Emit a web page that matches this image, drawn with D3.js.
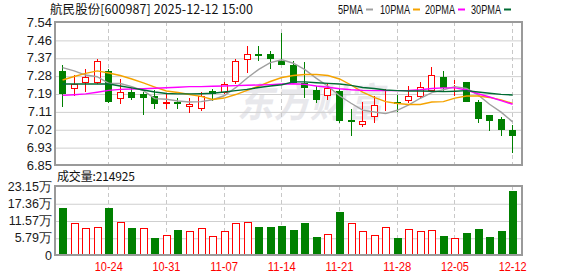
<!DOCTYPE html>
<html><head><meta charset="utf-8">
<script src="https://cdn.jsdelivr.net/npm/d3@7"></script>
<style>body{margin:0;background:#fff}svg{display:block}</style>
</head><body><svg id="c" width="578" height="276"></svg>
<script>
const dates=["10-20","10-21","10-22","10-23","10-24","10-27","10-28","10-29","10-30","10-31",
"11-03","11-04","11-05","11-06","11-07","11-10","11-11","11-12","11-13","11-14",
"11-17","11-18","11-19","11-20","11-21","11-24","11-25","11-26","11-27","11-28",
"12-01","12-02","12-03","12-04","12-05","12-08","12-09","12-10","12-11","12-12"];
const openP=[7.304,7.215,7.244,7.244,7.304,7.167,7.202,7.193,7.183,7.145,
7.154,7.131,7.122,7.206,7.196,7.250,7.357,7.386,7.386,7.350,
7.333,7.246,7.212,7.185,7.207,7.066,7.045,7.083,7.152,7.154,
7.157,7.177,7.209,7.275,7.238,7.250,7.154,7.090,7.072,7.019];
const highP=[7.332,7.284,7.312,7.360,7.313,7.263,7.222,7.204,7.210,7.193,
7.173,7.171,7.202,7.218,7.250,7.360,7.424,7.424,7.399,7.488,
7.353,7.345,7.231,7.241,7.217,7.120,7.156,7.181,7.219,7.188,
7.233,7.250,7.323,7.304,7.258,7.250,7.166,7.090,7.082,7.041];
const lowP=[7.131,7.184,7.204,7.242,7.148,7.146,7.164,7.093,7.122,7.120,
7.120,7.102,7.112,7.157,7.194,7.241,7.295,7.353,7.315,7.334,
7.240,7.171,7.147,7.162,7.054,6.992,7.035,7.054,7.112,7.105,
7.147,7.167,7.200,7.205,7.181,7.156,7.054,7.013,6.990,6.909];
const closeP=[7.194,7.239,7.273,7.350,7.155,7.202,7.175,7.175,7.146,7.152,
7.142,7.145,7.183,7.193,7.241,7.350,7.386,7.380,7.363,7.334,
7.244,7.220,7.164,7.222,7.064,7.058,7.062,7.141,7.157,7.145,
7.181,7.228,7.282,7.222,7.243,7.156,7.074,7.064,7.019,6.990];
const ma5=[7.320,7.304,7.284,7.276,7.244,7.243,7.228,7.209,7.170,7.167,
7.159,7.154,7.156,7.165,7.184,7.223,7.270,7.311,7.344,7.358,
7.341,7.310,7.268,7.230,7.184,7.148,7.115,7.106,7.098,7.114,
7.140,7.172,7.199,7.213,7.228,7.219,7.188,7.143,7.105,7.058];
const ma10=[7.260,7.277,7.292,7.304,7.294,7.282,7.265,7.246,7.226,7.207,
7.200,7.190,7.181,7.166,7.173,7.190,7.210,7.231,7.253,7.272,
7.282,7.287,7.287,7.282,7.265,7.236,7.202,7.176,7.156,7.147,
7.142,7.142,7.154,7.156,7.173,7.183,7.183,7.176,7.164,7.147];
const ma20=[7.186,7.189,7.193,7.201,7.210,7.215,7.217,7.218,7.220,7.223,
7.225,7.228,7.228,7.230,7.231,7.233,7.235,7.236,7.238,7.241,
7.242,7.239,7.231,7.225,7.218,7.213,7.210,7.209,7.209,7.209,
7.210,7.213,7.219,7.222,7.222,7.212,7.194,7.178,7.161,7.143];
const ma30=[7.241,7.241,7.241,7.241,7.241,7.231,7.222,7.212,7.202,7.195,
7.193,7.193,7.194,7.196,7.202,7.209,7.215,7.224,7.231,7.237,
7.251,7.251,7.247,7.244,7.241,7.234,7.224,7.219,7.212,7.209,
7.207,7.207,7.206,7.204,7.206,7.209,7.202,7.196,7.191,7.188];
const volume=[158700,107400,90600,93900,158700,110700,91600,90600,58000,68100,
84900,80500,90600,63700,80500,107400,110700,94900,94900,98300,
84900,108400,61400,70500,145300,107400,80500,67100,93900,58000,
87200,80500,83900,64800,57000,74800,88200,61400,81500,214925];
const volUp=[0,1,1,1,0,1,0,1,0,1, 0,1,1,1,1,1,1,0,0,0, 0,0,0,1,0,1,1,1,1,0, 1,1,1,0,1,0,0,0,0,0];
const priceTickLabels=["7.54","7.46","7.37","7.28","7.19","7.11","7.02","6.93","6.85"];
const volTickLabels=["23.15万","17.36万","11.57万","5.79万","0"];
const dateTickLabels=["10-24","10-31","11-07","11-14","11-21","11-28","12-05","12-12"];
const titleText="航民股份[600987] 2025-12-12 15:00";
const volLabel="成交量:214925";
const legendNames=["5PMA","10PMA","20PMA","30PMA"];
const maColors=["#a0a0a0","#f5a300","#ff00ff","#006b33"];

const svg=d3.select("#c");
const L=55,R=522,PT=22,PB=165,VT=186,VB=255;
const RED="#ff0000",GREEN="#008000";
const latin="'Liberation Sans',Arial,sans-serif";
const cjk="'Noto Sans CJK SC','Liberation Sans',sans-serif";

const x=d3.scaleBand().domain(dates).range([56.3,517.9]);
const bw=x.bandwidth();
const cx=d=>Math.round(x(d)+bw/2);
const pMax=+priceTickLabels[0], pMin=+priceTickLabels[priceTickLabels.length-1];
const y=d3.scaleLinear().domain([pMin,pMax]).range([PB,PT]);
const vMax=231500;
const yv=d3.scaleLinear().domain([0,vMax]).range([VB,VT]);

const pTickVals=priceTickLabels.map((_,i)=>pMax-i*(pMax-pMin)/(priceTickLabels.length-1));
const vTickVals=volTickLabels.map((_,i)=>vMax-i*vMax/(volTickLabels.length-1));

// watermark
svg.append("text").attr("x",237).attr("y",117).attr("font-family",cjk).attr("font-weight","bold")
  .attr("font-style","italic").attr("font-size",40).attr("fill","#e8e8ec").attr("textLength",146)
  .attr("lengthAdjust","spacingAndGlyphs").text("东方财富");

// grids
function hgrid(scale,vals){
  const g=svg.append("g").attr("transform",`translate(${L},0)`)
   .call(d3.axisLeft(scale).tickValues(vals).tickSize(-(R-L)).tickFormat(""));
  g.select(".domain").remove();
  g.selectAll(".tick line").attr("stroke","#cfcfcf").attr("stroke-width",1)
   .attr("transform","translate(0,0.5)");
}
hgrid(y,pTickVals.slice(1,-1));
hgrid(yv,vTickVals.slice(1,-1));

// vertical dashed
[[PT,PB],[VT,VB]].forEach(([a,b])=>{
  svg.append("g").selectAll("line").data(dateTickLabels).join("line")
   .attr("x1",d=>cx(d)+0.5).attr("x2",d=>cx(d)+0.5).attr("y1",a).attr("y2",b)
   .attr("stroke","#c8c8c8").attr("stroke-dasharray","4,3");
});

// candles
const idx=d3.range(dates.length);
const cg=svg.append("g");
idx.forEach(i=>{
  const c=cx(dates[i]);
  const up=closeP[i]>openP[i];
  const col=up?RED:GREEN;
  const top=Math.round(y(Math.max(openP[i],closeP[i])));
  const bot=Math.round(y(Math.min(openP[i],closeP[i])));
  const hy=Math.round(y(highP[i])), ly=Math.round(y(lowP[i]));
  if(up){
    if(hy<top) cg.append("line").attr("x1",c+0.5).attr("x2",c+0.5).attr("y1",hy).attr("y2",top).attr("stroke",col);
    if(ly>bot) cg.append("line").attr("x1",c+0.5).attr("x2",c+0.5).attr("y1",bot).attr("y2",ly).attr("stroke",col);
    const h=Math.max(0,bot-top-1);
    cg.append("rect").attr("x",c-2.5).attr("y",top+0.5).attr("width",6).attr("height",h)
      .attr("fill","#fff").attr("stroke",col).attr("stroke-width",1);
  } else {
    cg.append("line").attr("x1",c+0.5).attr("x2",c+0.5).attr("y1",hy).attr("y2",ly).attr("stroke",col);
    cg.append("rect").attr("x",c-3).attr("y",top).attr("width",7).attr("height",Math.max(2,bot-top)).attr("fill",col);
  }
});

// MA lines
[ma5,ma10,ma20,ma30].forEach((arr,k)=>{
  svg.append("path").datum(arr)
    .attr("d",d3.line().x((d,i)=>x(dates[i])+bw/2+0.5).y(d=>y(d)))
    .attr("fill","none").attr("stroke",maColors[k]).attr("stroke-width",1.4);
});

// volume bars
const vg=svg.append("g");
idx.forEach(i=>{
  const c=cx(dates[i]);
  const t=Math.round(yv(volume[i]));
  if(volUp[i]){
    vg.append("rect").attr("x",c-2.5).attr("y",t+0.5).attr("width",7).attr("height",VB-t-1)
      .attr("fill","#fff").attr("stroke",RED).attr("stroke-width",1);
  } else {
    vg.append("rect").attr("x",c-3).attr("y",t).attr("width",8).attr("height",VB-t).attr("fill",GREEN);
  }
});

// frames
[[PT,PB],[VT,VB]].forEach(([a,b])=>{
  svg.append("rect").attr("x",L).attr("y",a).attr("width",R-L).attr("height",b-a)
    .attr("fill","none").attr("stroke","#9a9a9a").attr("stroke-width",2);
});

// y axes labels
const pa=svg.append("g").attr("transform",`translate(${L-1},0)`)
  .call(d3.axisLeft(y).tickValues(pTickVals).tickSize(0).tickPadding(2).tickFormat((d,i)=>priceTickLabels[i]));
pa.select(".domain").remove();
pa.selectAll("text").attr("font-family",latin).attr("font-size",13).attr("fill","#1a1a1a");
const va=svg.append("g").attr("transform",`translate(${L-1},0)`)
  .call(d3.axisLeft(yv).tickValues(vTickVals).tickSize(0).tickPadding(2).tickFormat((d,i)=>volTickLabels[i]));
va.select(".domain").remove();
va.selectAll("text").attr("font-family",latin).attr("font-size",12.5).attr("fill","#1a1a1a");

// x axis labels
const xa=svg.append("g").attr("transform",`translate(0.5,${VB})`)
  .call(d3.axisBottom(x).tickValues(dateTickLabels).tickSize(0).tickPadding(7));
xa.select(".domain").remove();
xa.selectAll("text").attr("font-family",latin).attr("font-size",12).attr("fill",RED)
  .attr("textLength",28).attr("lengthAdjust","spacingAndGlyphs");

// title
svg.append("text").attr("x",50).attr("y",14).attr("font-family",cjk).attr("font-size",12.5)
  .attr("fill","#111").attr("textLength",203).attr("lengthAdjust","spacing").text(titleText);

// volume label
svg.append("text").attr("x",57).attr("y",180.5).attr("font-family",cjk).attr("font-size",12)
  .attr("fill","#111").attr("textLength",78).attr("lengthAdjust","spacing").text(volLabel);

// legend
const legX=[338,380,425,471], legW=[25,30,30,30];
legendNames.forEach((n,k)=>{
  svg.append("text").attr("x",legX[k]).attr("y",13.5).attr("font-family",latin).attr("font-size",12)
    .attr("fill","#111").attr("textLength",legW[k]).attr("lengthAdjust","spacingAndGlyphs").text(n);
  svg.append("line").attr("x1",legX[k]+legW[k]+3).attr("x2",legX[k]+legW[k]+10)
    .attr("y1",9.5).attr("y2",9.5).attr("stroke",maColors[k]).attr("stroke-width",2);
});
</script></body></html>
